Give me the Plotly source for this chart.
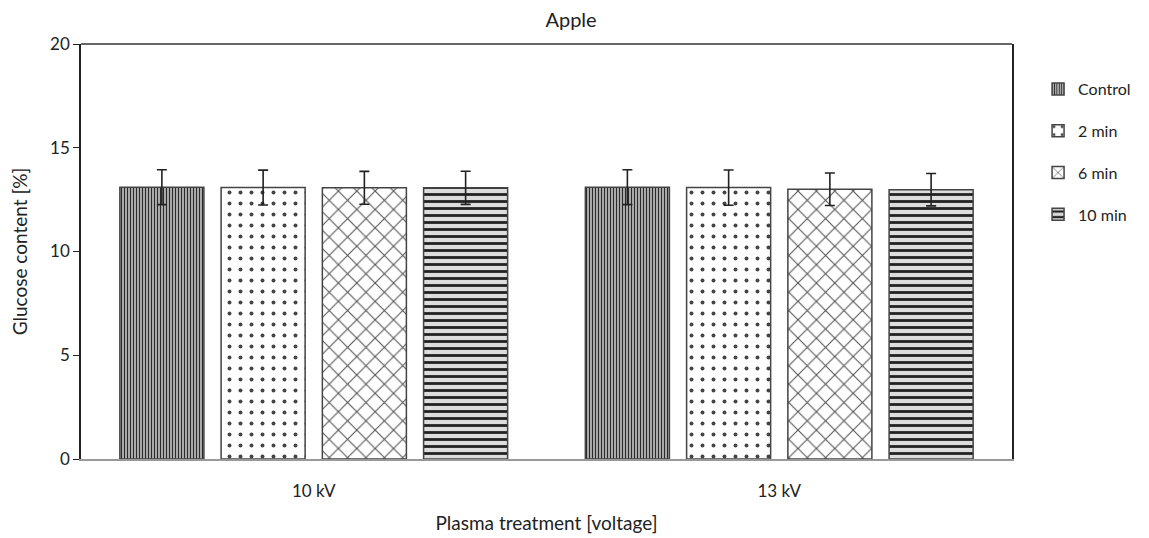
import plotly.graph_objects as go

categories = ["10 kV", "13 kV"]
series_names = ["Control", "2 min", "6 min", "10 min"]
values = {
    "Control": [13.1, 13.1],
    "2 min": [13.08, 13.08],
    "6 min": [13.07, 13.0],
    "10 min": [13.07, 12.98],
}
errors = {
    "Control": [0.84, 0.84],
    "2 min": [0.84, 0.85],
    "6 min": [0.79, 0.78],
    "10 min": [0.8, 0.78],
}

patterns = {
    "Control": dict(shape="|", fgcolor="#2a2a2a", bgcolor="#c4c4c4", size=3, solidity=0.45, fgopacity=1),
    "2 min": dict(shape=".", fgcolor="#444444", bgcolor="white", size=11, solidity=0.1, fgopacity=1),
    "6 min": dict(shape="x", fgcolor="#555555", bgcolor="white", size=13, solidity=0.16, fgopacity=1),
    "10 min": dict(shape="-", fgcolor="#222222", bgcolor="#dddddd", size=7, solidity=0.4, fgopacity=1),
}

FONT = "Lato"
fig = go.Figure()
for name in series_names:
    fig.add_trace(go.Bar(
        name=name,
        x=categories,
        y=values[name],
        legendgroup=name,
        marker=dict(
            color="white",
            line=dict(color="#444444", width=1.5),
            pattern=patterns[name],
        ),
        error_y=dict(type="data", array=errors[name], visible=True,
                     color="#222222", thickness=1.6, width=5),
    ))

fig.update_layout(
    width=1149, height=538,
    margin=dict(l=81, r=137, t=44, b=79),
    paper_bgcolor="white", plot_bgcolor="white",
    barmode="group", bargap=0.13, bargroupgap=0.17,
    font=dict(family=FONT, size=16, color="#222222"),
    title=dict(text="Apple", x=0.497, xref="container", xanchor="center",
               y=0.962, yref="container", yanchor="middle",
               font=dict(family=FONT, size=20, color="#222222")),
    showlegend=True,
    legend=dict(x=1.028, y=0.9325, xanchor="left", yanchor="top",
                traceorder="grouped", tracegroupgap=18,
                font=dict(family=FONT, size=16, color="#222222"),
                bgcolor="rgba(0,0,0,0)", itemwidth=30),
    shapes=[dict(type="line", xref="paper", yref="paper", x0=0, x1=1, y0=1, y1=1,
                 line=dict(color="#333333", width=1.5))],
)
fig.update_xaxes(
    showline=True, linecolor="#999999", linewidth=2, automargin=False,
    showgrid=False, ticks="", ticklabelstandoff=16,
    tickfont=dict(family=FONT, size=17),
    title=dict(text="Plasma treatment [voltage]", standoff=16,
               font=dict(family=FONT, size=19)),
)
fig.update_yaxes(
    range=[0, 20], dtick=5, showline=True, linecolor="#222222", linewidth=1.5,
    mirror=True, showgrid=False, ticks="outside", ticklen=6, tickcolor="#222222",
    tickfont=dict(family=FONT, size=17), automargin=False,
    title=dict(text="Glucose content [%]", standoff=17,
               font=dict(family=FONT, size=19)),
    zeroline=False,
)

fig.write_html("out.html", post_script="document.body.style.margin='0';",
               config={"displayModeBar": False})
